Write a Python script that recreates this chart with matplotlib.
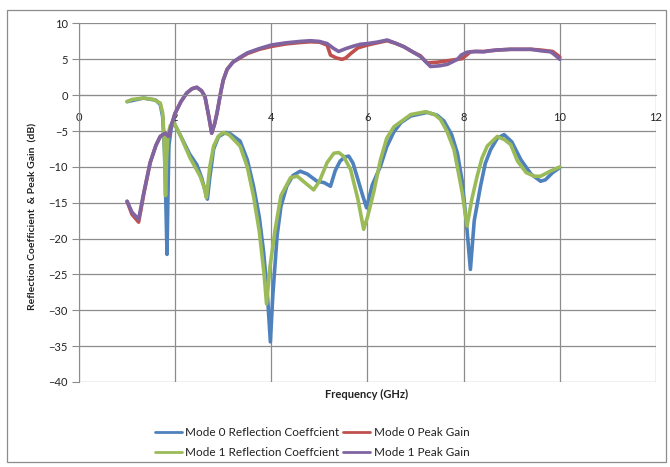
import matplotlib
matplotlib.use("Agg")
import matplotlib.pyplot as plt
from matplotlib.patches import Rectangle

plt.rcParams['font.family'] = ['Lato', 'DejaVu Sans']

# Mode 0 reflection coefficient (blue)
m0_ref_f = [1.0, 1.34, 1.6, 1.69, 1.74, 1.78, 1.81, 1.83, 1.85, 1.87, 1.92, 1.97, 2.1, 2.3, 2.45,
            2.55, 2.63, 2.67, 2.72, 2.8, 2.9, 3.05, 3.15, 3.35, 3.5, 3.63, 3.75, 3.84, 3.92, 3.98,
            4.03, 4.12, 4.2, 4.32, 4.45, 4.6, 4.75, 4.95, 5.1, 5.23, 5.33, 5.43, 5.53, 5.61, 5.7,
            5.78, 5.9, 5.98, 6.1, 6.27, 6.4, 6.55, 6.7, 6.9, 7.24, 7.45, 7.59, 7.75, 7.87, 7.97,
            8.06, 8.14, 8.22, 8.35, 8.45, 8.56, 8.7, 8.84, 9.0, 9.19, 9.4, 9.6, 9.7, 9.85, 10.0]
m0_ref_db = [-0.9, -0.4, -0.7, -1.3, -3.0, -8.0, -16.0, -22.2, -14.0, -7.0, -4.5, -3.8, -5.5, -8.2, -9.7,
             -11.5, -13.5, -14.5, -11.5, -7.5, -5.8, -5.2, -5.4, -6.4, -9.0, -12.7, -17.0, -21.9, -28.0, -34.4,
             -28.0, -19.6, -15.5, -12.7, -11.2, -10.6, -11.0, -12.0, -12.2, -12.7, -10.5, -9.2, -8.6, -8.5, -9.5,
             -11.3, -14.0, -15.7, -12.5, -9.9, -7.2, -5.1, -3.8, -2.9, -2.4, -2.8, -3.6, -5.5, -8.1, -12.0,
             -18.0, -24.3, -17.5, -12.7, -9.5, -7.6, -6.0, -5.5, -6.5, -9.0, -11.0, -12.0, -11.8, -10.8, -10.1]

# Mode 1 reflection coefficient (green)
m1_ref_f = [1.0, 1.1, 1.34, 1.55, 1.69, 1.74, 1.77, 1.79, 1.80, 1.82, 1.85, 1.90, 1.965, 2.1, 2.31,
            2.52, 2.6, 2.65, 2.72, 2.8, 2.9, 3.0, 3.12, 3.35, 3.5, 3.63, 3.75, 3.85, 3.9, 3.97,
            4.08, 4.2, 4.4, 4.54, 4.7, 4.88, 5.0, 5.16, 5.3, 5.4, 5.5, 5.65, 5.8, 5.92, 6.0,
            6.13, 6.27, 6.4, 6.55, 6.9, 7.21, 7.4, 7.52, 7.65, 7.8, 7.97, 8.07, 8.17, 8.28, 8.38,
            8.49, 8.7, 8.85, 8.98, 9.12, 9.3, 9.47, 9.6, 9.8, 10.0]
m1_ref_db = [-0.9, -0.6, -0.4, -0.6, -1.1, -2.5, -6.0, -11.0, -14.0, -9.0, -5.5, -4.2, -3.7, -5.5, -8.75,
             -11.3, -12.8, -14.3, -10.0, -7.1, -5.7, -5.2, -5.5, -7.1, -10.0, -14.1, -19.0, -25.0, -29.1, -24.0,
             -18.7, -14.0, -11.5, -11.3, -12.2, -13.2, -12.0, -9.4, -8.1, -8.0, -8.5, -10.4, -14.5, -18.7, -17.0,
             -13.5, -9.0, -6.0, -4.4, -2.7, -2.3, -2.7, -3.4, -5.0, -7.6, -13.6, -18.25, -14.5, -11.3, -8.8,
             -7.1, -5.75, -6.2, -6.9, -9.2, -10.8, -11.3, -11.3, -10.6, -10.0]

# Mode 0 peak gain (red)
m0_gain_f = [1.0, 1.1, 1.24, 1.35, 1.48, 1.6, 1.69, 1.79, 1.86, 1.93, 2.0, 2.12, 2.24, 2.35, 2.45,
             2.55, 2.62, 2.7, 2.76, 2.82, 2.87, 2.95, 3.0, 3.08, 3.2, 3.35, 3.5, 3.75, 4.0, 4.3,
             4.6, 4.81, 5.0, 5.16, 5.23, 5.35, 5.47, 5.55, 5.65, 5.8, 6.0, 6.2, 6.41, 6.6, 6.76,
             6.95, 7.1, 7.24, 7.45, 7.66, 7.97, 8.14, 8.25, 8.42, 8.55, 8.7, 8.98, 9.2, 9.4, 9.6,
             9.85, 9.95, 10.0]
m0_gain_db = [-14.8, -16.6, -17.7, -13.7, -9.4, -7.0, -5.75, -5.3, -5.75, -4.0, -2.5, -0.9, 0.3, 0.9, 1.1,
              0.6, -0.2, -3.0, -5.3, -4.0, -2.5, 0.5, 2.1, 3.6, 4.6, 5.2, 5.8, 6.4, 6.8, 7.15,
              7.35, 7.45, 7.4, 7.0, 5.6, 5.2, 5.0, 5.2, 5.8, 6.6, 7.0, 7.3, 7.6, 7.2, 6.75,
              6.0, 5.5, 4.5, 4.6, 4.8, 5.1, 6.05, 6.1, 6.1, 6.2, 6.3, 6.4, 6.4, 6.4, 6.3,
              6.1, 5.6, 5.3]

# Mode 1 peak gain (purple)
m1_gain_f = [1.0, 1.1, 1.24, 1.35, 1.48, 1.6, 1.69, 1.79, 1.86, 1.93, 2.0, 2.12, 2.24, 2.35, 2.45,
             2.55, 2.62, 2.7, 2.76, 2.82, 2.87, 2.95, 3.0, 3.08, 3.2, 3.35, 3.5, 3.75, 4.0, 4.3,
             4.6, 4.81, 5.0, 5.16, 5.3, 5.4, 5.55, 5.71, 5.85, 6.0, 6.2, 6.41, 6.6, 6.76, 6.95,
             7.1, 7.22, 7.31, 7.5, 7.66, 7.87, 7.95, 8.07, 8.25, 8.42, 8.55, 8.7, 8.98, 9.2, 9.4,
             9.6, 9.81, 9.9, 10.0]
m1_gain_db = [-14.8, -16.3, -17.3, -13.5, -9.4, -7.0, -5.75, -5.3, -5.75, -4.0, -2.5, -0.9, 0.3, 0.9, 1.1,
              0.6, -0.2, -3.0, -5.3, -4.0, -2.5, 0.5, 2.1, 3.6, 4.6, 5.3, 5.9, 6.5, 7.0, 7.3,
              7.5, 7.6, 7.5, 7.2, 6.5, 6.1, 6.5, 6.85, 7.1, 7.2, 7.4, 7.7, 7.2, 6.75, 6.0,
              5.4, 4.6, 4.0, 4.1, 4.3, 5.0, 5.6, 6.0, 6.1, 6.05, 6.2, 6.3, 6.4, 6.4, 6.4,
              6.2, 6.05, 5.6, 5.0]

series_labels = ["Mode 0 Reflection Coeffcient", "Mode 0 Peak Gain",
                 "Mode 1 Reflection Coeffcient", "Mode 1 Peak Gain"]
x_ticks = [0, 2, 4, 6, 8, 10, 12]
y_ticks = [10, 5, 0, -5, -10, -15, -20, -25, -30, -35, -40]

colors = ["#4F81BD", "#C0504D", "#9BBB59", "#8064A2"]
grid_c = "#8C8C8C"

fig = plt.figure(figsize=(6.7, 4.67), dpi=100)
fig.patches.append(Rectangle((6.5 / 670, 1 - 462 / 467), 659 / 670, 452.5 / 467,
                             transform=fig.transFigure, fill=False, edgecolor="#8C8C8C", lw=0.9))
ax = fig.add_axes([79 / 670, 1 - 382 / 467, 577 / 670, 358.5 / 467])

lw = 2.6
kw = dict(lw=lw, solid_joinstyle='round', solid_capstyle='round')
l0, = ax.plot(m0_ref_f, m0_ref_db, color=colors[0], label=series_labels[0], **kw)
l1, = ax.plot(m0_gain_f, m0_gain_db, color=colors[1], label=series_labels[1], **kw)
l2, = ax.plot(m1_ref_f, m1_ref_db, color=colors[2], label=series_labels[2], **kw)
l3, = ax.plot(m1_gain_f, m1_gain_db, color=colors[3], label=series_labels[3], **kw)

ax.set_xlim(0, 12)
ax.set_ylim(-40, 10)
ax.set_xticks(x_ticks)
ax.set_yticks(y_ticks)
ax.grid(True, color=grid_c, lw=0.9)
ax.set_axisbelow(True)

for s in ["top", "right"]:
    ax.spines[s].set_visible(False)
ax.spines["left"].set_color(grid_c)
ax.spines["bottom"].set_position(("data", 0))
ax.spines["bottom"].set_color(grid_c)
ax.tick_params(axis="y", length=5, color=grid_c, labelsize=8, pad=3, labelcolor="#222222")
ax.tick_params(axis="x", length=0, labelsize=8, pad=12, labelcolor="#222222")

fig.text(33 / 670, 1 - 216 / 467, "Reflection Coefficient  & Peak Gain  (dB)", rotation=90,
         ha="center", va="center", fontsize=7.5, fontweight="bold", color="#222222")
fig.text(367 / 670, 1 - 394 / 467, "Frequency (GHz)", ha="center", va="center",
         fontsize=8, fontweight="bold", color="#222222")

# legend filled row-wise as in the reference (column-major order for matplotlib)
order = [0, 2, 1, 3]
handles = [l0, l1, l2, l3]
leg = fig.legend(handles=[handles[i] for i in order], labels=[series_labels[i] for i in order], ncol=2,
                 loc="center", bbox_to_anchor=(312 / 670, 1 - 442.5 / 467), frameon=False,
                 fontsize=8.5, handlelength=2.3, handletextpad=0.3, columnspacing=0.3,
                 labelspacing=0.75)
for h in leg.legend_handles:
    h.set_linewidth(2)
for t in leg.get_texts():
    t.set_color("#222222")

fig.savefig("out.png", dpi=100)
